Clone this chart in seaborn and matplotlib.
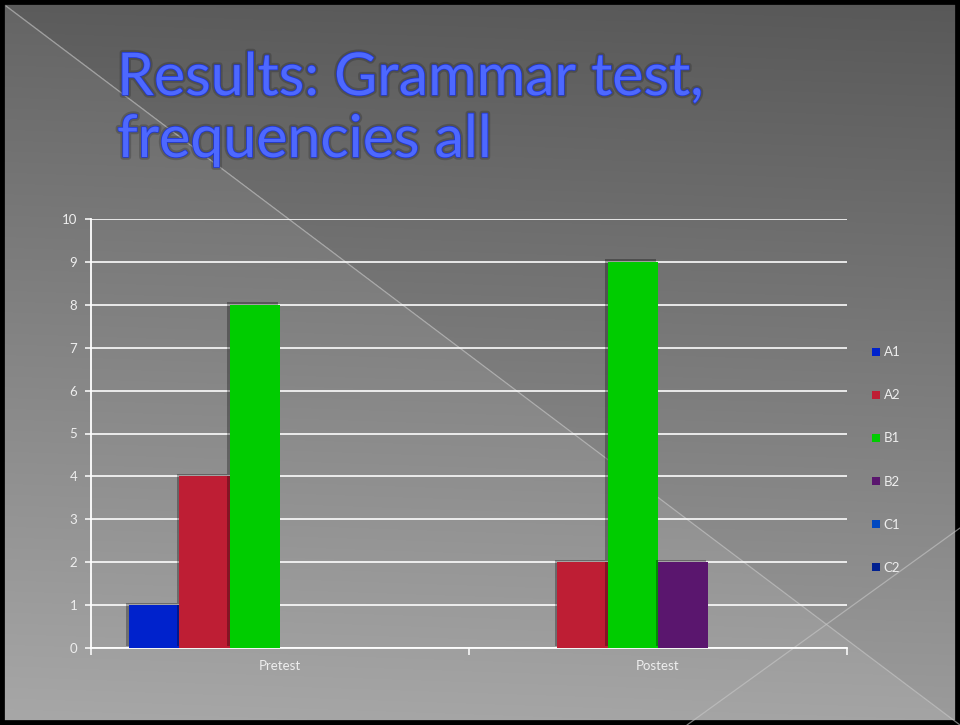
import numpy as np
import pandas as pd
import matplotlib
matplotlib.use("Agg")
import matplotlib.pyplot as plt
import matplotlib.patheffects as pe
from matplotlib.patches import Patch, Rectangle
import seaborn as sns

# ---- data ----
tests = ["Pretest", "Postest"]
levels = ["A1", "A2", "B1", "B2", "C1", "C2"]
pretest_freq = [1, 4, 8, 0, 0, 0]
postest_freq = [0, 2, 9, 2, 0, 0]
level_colors = ["#0022cc", "#be1e34", "#00cc00", "#5a166e", "#0048c0", "#002090"]
title_lines = ["Results: Grammar test,", "frequencies all"]
y_ticks = list(range(0, 11))

df = pd.DataFrame({
    "test": [tests[0]] * len(levels) + [tests[1]] * len(levels),
    "level": levels * 2,
    "freq": pretest_freq + postest_freq,
})

sns.set_theme(style="white")
FONT = ["Lato", "DejaVu Sans"]
plt.rcParams["font.family"] = FONT

W, H = 960, 725
fig = plt.figure(figsize=(W / 100, H / 100), dpi=100)

# ---- background ----
bg = fig.add_axes([0, 0, 1, 1], zorder=-10)
yy, xx = np.mgrid[0:H, 0:W]
val = 0.345 + (0.61 - 0.345) * (yy / H)
val = val + 0.012 * (1 - xx / W)
lower_left = yy > (xx * (H / W))
val = np.where(lower_left, val + 0.035, val)
bg.imshow(np.dstack([val, val, val]), extent=[0, W, H, 0], aspect="auto",
          interpolation="bilinear")
bg.plot([6, W], [6, H], color="#c8c8c8", lw=0.9, alpha=0.6)
bg.plot([687, W], [H, 528], color="#c8c8c8", lw=0.9, alpha=0.6)
bg.add_patch(Rectangle((0, 0), W, H, fill=False, edgecolor="black", lw=7))
bg.set_xlim(0, W)
bg.set_ylim(H, 0)
bg.axis("off")

# ---- title ----
title_fx = [pe.withStroke(linewidth=4, foreground=(0, 0, 0, 0.18)),
            pe.Stroke(linewidth=1.1, foreground="#1f35d0"), pe.Normal()]
for line, base in zip(title_lines, [95, 157]):
    fig.text(117 / W, 1 - base / H, line, fontsize=42.5, fontweight="normal",
             color="#4d68ff", va="baseline", ha="left", family=FONT,
             path_effects=title_fx)

# ---- chart ----
ax = fig.add_axes([91 / W, 1 - 648 / H, (847 - 91) / W, (648 - 219) / H])
ax.set_facecolor("none")
sns.barplot(data=df, x="test", y="freq", hue="level", palette=level_colors,
            order=tests, hue_order=levels, width=0.8, saturation=1,
            legend=False, ax=ax, zorder=3)
for p in ax.patches:
    p.set_edgecolor("none")
    p.set_path_effects([pe.SimplePatchShadow(offset=(-1.8, 1.8), shadow_rgbFace="black",
                                             alpha=0.3), pe.Normal()])

ax.set_ylim(0, 10)
ax.set_xlim(-0.5, 1.5)
ax.set_yticks(y_ticks)
ax.set_axisbelow(True)
ax.grid(axis="y", color="white", lw=1.3, alpha=0.9)
ax.grid(axis="x", visible=False)
for s in ["top", "right"]:
    ax.spines[s].set_visible(False)
for s in ["left", "bottom"]:
    ax.spines[s].set_color("white")
    ax.spines[s].set_linewidth(1.3)
ax.tick_params(axis="y", left=True, length=4, width=1.1, color="white",
               labelcolor="#eeeeee", labelsize=9.5, pad=6)
ax.set_xticks([-0.5, 0.5, 1.5], minor=True)
ax.tick_params(axis="x", which="minor", bottom=True, length=5, width=1.1, color="white")
ax.tick_params(axis="x", which="major", bottom=False, length=0, labelcolor="#eeeeee",
               labelsize=9.5, pad=9)
ax.set_xlabel("")
ax.set_ylabel("")

handles = [Patch(facecolor=c, edgecolor="none", label=l) for c, l in zip(level_colors, levels)]
fig.legend(handles=handles, loc="center left",
           bbox_to_anchor=(872 / W, 1 - 460 / H), frameon=False,
           fontsize=9.5, labelcolor="#eeeeee", handlelength=0.6,
           handleheight=0.6, handletextpad=0.3, labelspacing=2.35,
           borderpad=0, borderaxespad=0)

fig.savefig("out.png", dpi=100)
